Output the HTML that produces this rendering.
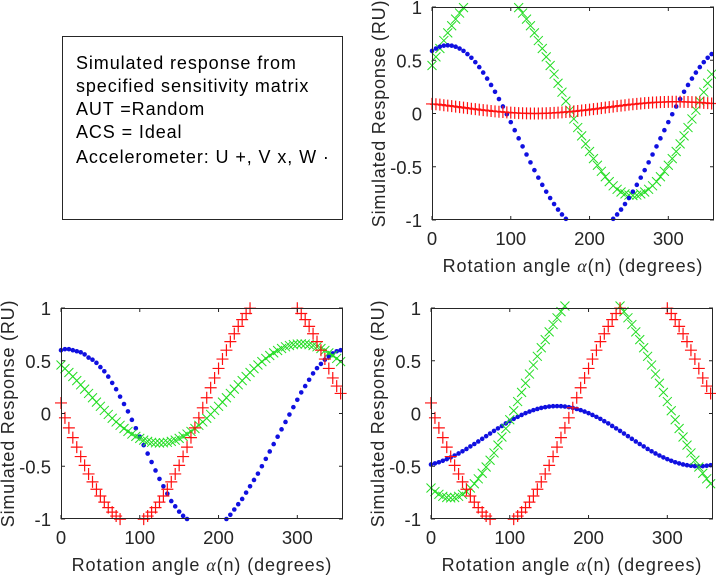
<!DOCTYPE html>
<html><head><meta charset="utf-8"><style>
body{margin:0;background:#fff;width:716px;height:575px;overflow:hidden;font-family:"Liberation Sans",Arial,sans-serif}
svg{position:absolute;left:0;top:0}
</style></head><body>
<svg id="fig" width="716" height="575">
<g font-size="18" letter-spacing="0.9">
<rect x="62.5" y="36.5" width="280" height="183" fill="#fff" stroke="#262626" stroke-width="1"/>
<text x="76" y="69" fill="#000">Simulated response from</text>
<text x="76" y="92" fill="#000">specified sensitivity matrix</text>
<text x="76" y="115" fill="#000">AUT =Random</text>
<text x="76" y="138" fill="#000">ACS = Ideal</text>
<text x="76" y="163" fill="#000">Accelerometer: U +, V x, W ·</text>
</g>
</svg>
<script>
const angles=[];for(let i=0;i<72;i++)angles.push(i*5);
const xTicks=[0,100,200,300];
const yTicks=[-1,-0.5,0,0.5,1];
const yTickLabels=["-1","-0.5","0","0.5","1"];
const trBlue=[.588,.610,.627,.637,.640,.637,.627,.610,.588,.558,.523,.482,.436,.384,.328,.268,.204,.136,.066,-.007,-.081,-.157,-.233,-.309,-.385,-.459,-.532,-.602,-.670,-.734,-.794,-.850,-.902,-.948,-.989,-1.024,-1.054,-1.076,-1.093,-1.103,-1.106,-1.103,-1.093,-1.076,-1.054,-1.024,-.989,-.948,-.902,-.850,-.794,-.734,-.670,-.602,-.532,-.459,-.385,-.309,-.233,-.157,-.081,-.007,.066,.136,.204,.268,.328,.384,.436,.482,.523,.558];
const trGreen=[.451,.532,.610,.685,.757,.824,.886,.943,.994,1.04,1.079,1.112,1.137,1.155,1.166,1.17,1.166,1.155,1.137,1.112,1.079,1.04,.994,.943,.886,.824,.757,.685,.610,.532,.451,.369,.284,.2,.116,.031,-.051,-.132,-.210,-.285,-.357,-.424,-.486,-.543,-.594,-.640,-.679,-.712,-.737,-.755,-.766,-.77,-.766,-.755,-.737,-.712,-.679,-.640,-.594,-.543,-.486,-.424,-.357,-.285,-.210,-.132,-.051,.031,.116,.2,.284,.369];
const trRed=[.090,.087,.083,.078,.074,.069,.065,.060,.055,.050,.045,.041,.036,.032,.028,.024,.020,.017,.014,.011,.008,.006,.004,.002,.001,0,0,0,.001,.002,.004,.006,.008,.011,.014,.017,.020,.024,.028,.032,.036,.041,.045,.050,.055,.060,.065,.069,.074,.078,.083,.087,.090,.094,.097,.100,.103,.105,.107,.108,.109,.11,.11,.11,.109,.108,.107,.105,.103,.100,.097,.094];
const blBlue=[.60,.61,.61,.60,.59,.58,.56,.53,.51,.48,.44,.40,.35,.29,.23,.16,.09,.02,-.06,-.14,-.22,-.30,-.38,-.46,-.54,-.62,-.69,-.76,-.83,-.88,-.93,-.97,-1.0,-1.03,-1.06,-1.08,-1.09,-1.1,-1.09,-1.08,-1.06,-1.03,-1.0,-.96,-.91,-.86,-.81,-.75,-.69,-.63,-.57,-.50,-.43,-.36,-.29,-.22,-.15,-.08,-.01,.06,.13,.20,.26,.32,.38,.43,.47,.51,.54,.57,.59,.60];
const blGreen=[.460,.425,.389,.351,.312,.272,.231,.19,.149,.108,.068,.029,-.009,-.045,-.080,-.112,-.142,-.170,-.195,-.217,-.236,-.252,-.264,-.273,-.278,-.28,-.278,-.273,-.264,-.252,-.236,-.217,-.195,-.170,-.142,-.112,-.080,-.045,-.009,.029,.068,.108,.149,.19,.231,.272,.312,.351,.389,.425,.460,.492,.522,.550,.575,.597,.616,.632,.644,.653,.658,.66,.658,.653,.644,.632,.616,.597,.575,.550,.522,.492];
const uRed=[.1,-.041,-.136,-.229,-.319,-.408,-.492,-.573,-.648,-.718,-.782,-.840,-.892,-.935,-.972,-1.001,-1.022,-1.034,-1.038,-1.034,-1.022,-1.001,-.972,-.935,-.892,-.840,-.782,-.718,-.648,-.573,-.492,-.408,-.319,-.229,-.136,-.041,.054,.149,.244,.337,.427,.516,.600,.681,.756,.826,.890,.948,.998,1.044,1.080,1.109,1.130,1.142,1.146,1.142,1.130,1.109,1.080,1.044,.998,.948,.890,.826,.756,.681,.600,.516,.427,.337,.260,.19];
const brBlue=[-.483,-.473,-.462,-.448,-.433,-.416,-.398,-.379,-.358,-.336,-.312,-.289,-.265,-.240,-.215,-.190,-.165,-.141,-.118,-.094,-.073,-.051,-.032,-.014,.003,.018,.032,.043,.053,.060,.066,.069,.070,.069,.066,.060,.053,.043,.032,.018,.003,-.014,-.032,-.051,-.073,-.094,-.118,-.141,-.165,-.190,-.215,-.240,-.265,-.289,-.312,-.336,-.358,-.379,-.398,-.416,-.433,-.448,-.462,-.473,-.483,-.490,-.495,-.499,-.5,-.499,-.495,-.490];
const brGreen=[-.706,-.740,-.766,-.785,-.796,-.8,-.796,-.785,-.766,-.740,-.706,-.666,-.619,-.566,-.507,-.443,-.374,-.3,-.223,-.142,-.059,.026,.113,.2,.287,.374,.459,.542,.623,.7,.774,.843,.907,.966,1.019,1.066,1.106,1.140,1.166,1.185,1.196,1.2,1.196,1.185,1.166,1.140,1.106,1.066,1.019,.966,.907,.843,.774,.7,.623,.542,.459,.374,.287,.2,.113,.026,-.059,-.142,-.223,-.3,-.374,-.443,-.507,-.566,-.619,-.666];

const NS='http://www.w3.org/2000/svg';
const fig=document.getElementById('fig');
function mk(tag,attrs,parent){const e=document.createElementNS(NS,tag);for(const k in attrs)e.setAttribute(k,attrs[k]);(parent||fig).appendChild(e);return e;}

function panel(name,L,R,T,B,series){
  const g=mk('g',{});
  
  
  const xs=v=>L+(v/358)*(R-L);
  const ys=v=>T+(1-v)/2*(B-T);
  const clip=mk('clipPath',{id:name+'-clip'},g);
  mk('rect',{x:L-8,y:T-8,width:R-L+16,height:B-T+16},clip);
  const marks=mk('g',{'clip-path':'url(#'+name+'-clip)'},g);
  series.forEach(s=>{
    const sg=mk('g',{},marks);
    
    
    s.data.forEach((v,i)=>{
      if(v>1.02||v<-1.02)return;
      const x=xs(angles[i]),y=ys(v);
      if(s.type==='dot'){const c=mk('circle',{cx:x,cy:y,r:2.3,fill:s.color},sg);}
      else if(s.type==='plus'){const p=mk('path',{d:`M${x-6} ${y}H${x+6}M${x} ${y-6}V${y+6}`,stroke:s.color,'stroke-width':1.2,fill:'none'},sg);}
      else {const p=mk('path',{d:`M${x-4.5} ${y-4.5}L${x+4.5} ${y+4.5}M${x-4.5} ${y+4.5}L${x+4.5} ${y-4.5}`,stroke:s.color,'stroke-width':1,fill:'none'},sg);}
    });
  });
  const box=mk('rect',{x:L+.5,y:T+.5,width:R-L-1,height:B-T-1,fill:'none',stroke:'#262626','stroke-width':1},g);
  
  
  xTicks.forEach(t=>{
    const x=xs(t);
    mk('path',{d:`M${x} ${B}V${B-4}M${x} ${T}V${T+4}`,stroke:'#262626'},g);
    const tx=mk('text',{x:x,y:B+25,'font-size':18.5,'text-anchor':'middle',fill:'#262626'},g);
    tx.textContent=t;
    
    
  });
  yTicks.forEach((t,i)=>{
    const y=ys(t);
    mk('path',{d:`M${L} ${y}H${L+4}M${R} ${y}H${R-4}`,stroke:'#262626'},g);
    const tx=mk('text',{x:L-10,y:y+7,'font-size':18.5,'text-anchor':'end',fill:'#262626'},g);
    tx.textContent=yTickLabels[i];
    
    
  });
  const xl=mk('text',{x:(L+R)/2,y:B+52,'font-size':18,'letter-spacing':0.9,'text-anchor':'middle',fill:'#262626'},g);
  xl.innerHTML='Rotation angle <tspan font-family="Liberation Serif" font-style="italic">α</tspan>(n) (degrees)';
  
  
  const yl=mk('text',{x:0,y:0,'font-size':18,'letter-spacing':0.8,'text-anchor':'middle',fill:'#262626',transform:`translate(${L-47},${(T+B)/2}) rotate(-90)`},g);
  yl.textContent='Simulated Response (RU)';
  
  
}
panel('top-right-plot',432,714,7,220,[
  {name:'series-v-green',data:trGreen,type:'x',color:'#22dd22'},
  {name:'series-w-blue',data:trBlue,type:'dot',color:'#1010e0'},
  {name:'series-u-red',data:trRed,type:'plus',color:'#ff1010'}]);
panel('bottom-left-plot',61,343,308,519,[
  {name:'series-w-blue',data:blBlue,type:'dot',color:'#1010e0'},
  {name:'series-v-green',data:blGreen,type:'x',color:'#22dd22'},
  {name:'series-u-red',data:uRed,type:'plus',color:'#ff1010'}]);
panel('bottom-right-plot',431,713,308,519,[
  {name:'series-w-blue',data:brBlue,type:'dot',color:'#1010e0'},
  {name:'series-v-green',data:brGreen,type:'x',color:'#22dd22'},
  {name:'series-u-red',data:uRed,type:'plus',color:'#ff1010'}]);
</script>
</body></html>
